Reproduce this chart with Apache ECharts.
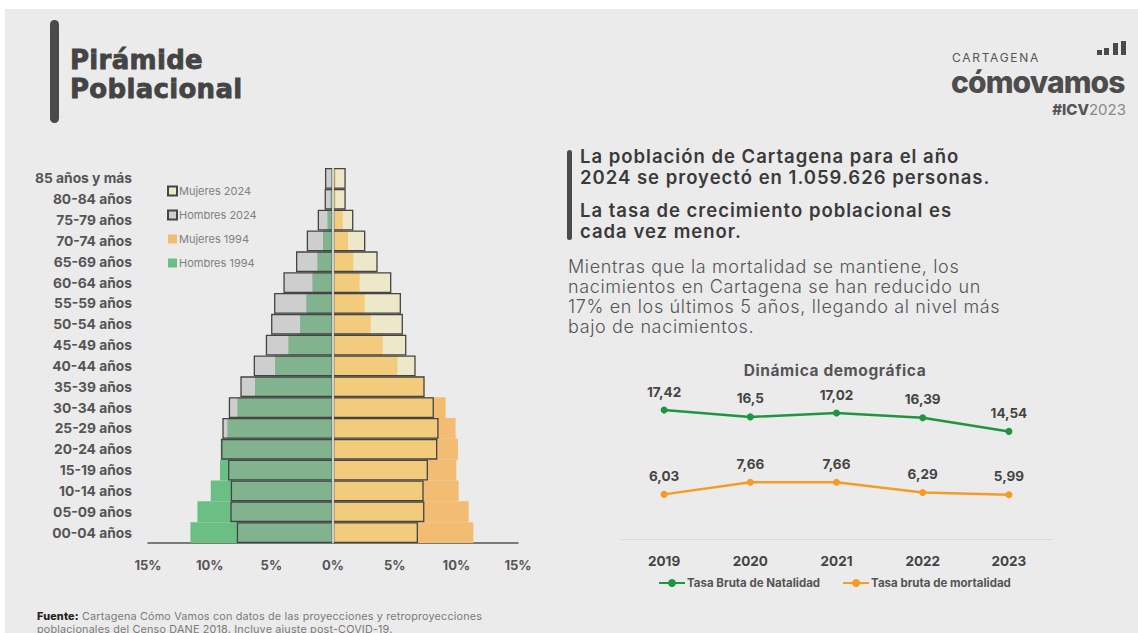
<!DOCTYPE html>
<html>
<head>
<meta charset="utf-8">
<script src="https://cdn.jsdelivr.net/npm/echarts@6/dist/echarts.min.js"></script>
<style>
  html, body { margin:0; padding:0; background:#ffffff; }
  body { width:1138px; height:633px; position:relative; overflow:hidden; font-family: Inter, "Noto Sans", sans-serif; }
  #panel { position:absolute; left:5px; top:9px; right:0; bottom:0; background:#ebebeb; }
  #chart { position:absolute; left:0; top:0; width:1138px; height:633px; }
  .abs { position:absolute; white-space:nowrap; }
  #tbar { left:50px; top:20px; width:9px; height:103px; background:#4a4a4a; border-radius:5px; }
  #title { left:70px; top:46px; font-family:"DejaVu Sans", sans-serif; font-weight:bold; font-size:26px; line-height:29px; letter-spacing:0.3px; color:#444; -webkit-text-stroke:0.8px #444; }
  #cart { left:952px; top:50.5px; font-size:12px; line-height:14px; letter-spacing:1.7px; color:#555; }
  #como { left:951px; top:67px; font-size:30px; line-height:30px; font-weight:800; color:#4d4d4d; letter-spacing:-0.9px; }
  #icv { right:12px; top:101px; font-size:15px; line-height:18px; color:#555; }
  #icv b { font-weight:800; }
  #icv span { color:#8a8a8a; font-weight:400; }
  .lb { position:absolute; background:#4a4a4a; bottom:578px; width:5px; }
  #hbar { left:567px; top:150px; width:5px; height:90px; background:#4a4a4a; border-radius:3px; }
  .head { left:580px; font-weight:600; font-size:18.5px; line-height:20.5px; letter-spacing:1px; color:#3a3a3a; }
  #para { left:568px; top:257px; font-weight:300; font-size:18px; line-height:20px; letter-spacing:0.65px; color:#555; }
  #ctitle { left:735px; top:361px; width:200px; text-align:center; font-weight:bold; font-size:15.5px; line-height:20px; letter-spacing:0.6px; color:#555; }
  #foot { left:37px; top:611px; font-size:10.8px; line-height:12.5px; letter-spacing:0.18px; color:#7a7a7a; }
  #foot b { color:#222; font-weight:800; }
</style>
</head>
<body>
<div id="panel"></div>
<div id="tbar" class="abs"></div>
<div id="title" class="abs">Pirámide<br>Poblacional</div>
<div id="cart" class="abs">CARTAGENA</div>
<div class="lb" style="left:1097px;height:5px;"></div>
<div class="lb" style="left:1104px;height:7px;"></div>
<div class="lb" style="left:1113px;height:12px;"></div>
<div class="lb" style="left:1121px;height:14px;"></div>
<div id="como" class="abs">cómovamos</div>
<div id="icv" class="abs"><b>#ICV</b><span>2023</span></div>
<div id="hbar" class="abs"></div>
<div class="abs head" style="top:146px;">La población de Cartagena para el año<br>2024 se proyectó en 1.059.626 personas.</div>
<div class="abs head" style="top:200px;">La tasa de crecimiento poblacional es<br>cada vez menor.</div>
<div id="para" class="abs">Mientras que la mortalidad se mantiene, los<br>nacimientos en Cartagena se han reducido un<br>17% en los últimos 5 años, llegando al nivel más<br>bajo de nacimientos.</div>
<div id="ctitle" class="abs">Dinámica demográfica</div>
<div id="foot" class="abs"><b>Fuente:</b> Cartagena Cómo Vamos con datos de las proyecciones y retroproyecciones<br>poblacionales del Censo DANE 2018. Incluye ajuste post-COVID-19.</div>
<div id="chart"></div>
<script>
// ---- Pirámide poblacional (from youngest to oldest) ----
var ageGroups = ['00-04 años','05-09 años','10-14 años','15-19 años','20-24 años','25-29 años','30-34 años','35-39 años','40-44 años','45-49 años','50-54 años','55-59 años','60-64 años','65-69 años','70-74 años','75-79 años','80-84 años','85 años y más'];
var hombres1994 = [11.56, 10.99, 9.91, 9.16, 9.10, 8.56, 7.75, 6.32, 4.70, 3.62, 2.67, 2.16, 1.67, 1.27, 0.81, 0.45, 0.2, 0.15];
var mujeres1994 = [11.38, 11.00, 10.19, 10.00, 10.13, 9.94, 9.13, 7.40, 5.22, 4.03, 3.06, 2.57, 2.16, 1.65, 1.22, 0.79, 0.2, 0.22];
var hombres2024 = [7.80, 8.32, 8.29, 8.51, 9.07, 8.97, 8.45, 7.51, 6.43, 5.45, 5.02, 4.78, 4.02, 3.00, 2.13, 1.24, 0.68, 0.65];
var mujeres2024 = [6.89, 7.41, 7.35, 7.70, 8.46, 8.56, 8.18, 7.43, 6.70, 5.95, 5.67, 5.51, 4.73, 3.62, 2.62, 1.65, 1.03, 1.03];
var pyramidTicks = [-15, -10, -5, 0, 5, 10, 15];

// ---- Dinámica demográfica ----
var years = ['2019', '2020', '2021', '2022', '2023'];
var natalidad = [17.42, 16.5, 17.02, 16.39, 14.54];
var mortalidad = [6.03, 7.66, 7.66, 6.29, 5.99];

var FONT = 'Inter, "Noto Sans", sans-serif';
var chart = echarts.init(document.getElementById('chart'), null, {renderer: 'svg'});

function neg(a) { return a.map(function (v) { return -v; }); }
function comma(p) { return String(p.value).replace('.', ','); }

var pyrBase = { type: 'bar', xAxisIndex: 0, yAxisIndex: 0, barWidth: '100%', barGap: '-100%', barCategoryGap: '0%' };

chart.setOption({
  animation: false,
  textStyle: { fontFamily: FONT },
  grid: [
    { left: 148, top: 168, width: 370, height: 375 },
    { left: 621, top: 391, width: 431, height: 148 }
  ],
  xAxis: [
    { gridIndex: 0, type: 'value', min: pyramidTicks[0], max: pyramidTicks[pyramidTicks.length - 1], interval: 5,
      axisLine: { show: true, onZero: false, lineStyle: { color: '#555', width: 1.5 } },
      axisTick: { show: false }, splitLine: { show: false },
      axisLabel: { margin: 15, color: '#555', fontWeight: 'bold', fontSize: 13, fontFamily: FONT,
        formatter: function (v) { return Math.abs(v) + '%'; } } },
    { gridIndex: 1, type: 'category', data: years, boundaryGap: true,
      axisLine: { show: true, lineStyle: { color: '#d9d9d9', width: 1 } },
      axisTick: { show: false },
      axisLabel: { margin: 15, color: '#444', fontWeight: 'bold', fontSize: 13.5, fontFamily: FONT } }
  ],
  yAxis: [
    { gridIndex: 0, type: 'category', data: ageGroups,
      axisLine: { show: false }, axisTick: { show: false },
      axisLabel: { margin: 16, color: '#555', fontWeight: 'bold', fontSize: 13.8, fontFamily: FONT } },
    { gridIndex: 1, type: 'value', min: 0, max: 20, show: false, splitLine: { show: false } }
  ],
  legend: [
    { orient: 'vertical', left: 162, top: 180.5, itemWidth: 9, itemHeight: 9, itemGap: 13, icon: 'rect',
      data: ['Mujeres 2024', 'Hombres 2024', 'Mujeres 1994', 'Hombres 1994'],
      textStyle: { fontSize: 11, color: '#808080', fontFamily: FONT, padding: [0, 0, 0, -3] } },
    { orient: 'horizontal', left: 653, top: 572, itemWidth: 26, itemHeight: 10, itemGap: 22,
      data: ['Tasa Bruta de Natalidad', 'Tasa bruta de mortalidad'],
      textStyle: { fontSize: 11.5, fontWeight: 'bold', color: '#555', fontFamily: FONT, padding: [0, 0, 0, -3] } }
  ],
  series: [
    Object.assign({}, pyrBase, { name: 'Hombres 1994', data: neg(hombres1994), itemStyle: { color: '#6cbf84' } }),
    Object.assign({}, pyrBase, { name: 'Mujeres 1994', data: mujeres1994, itemStyle: { color: '#f2bd72' } }),
    Object.assign({}, pyrBase, { name: 'Hombres 2024', data: neg(hombres2024),
      itemStyle: { color: 'rgba(160,160,160,0.38)', borderColor: '#444', borderWidth: 1.3 } }),
    Object.assign({}, pyrBase, { name: 'Mujeres 2024', data: mujeres2024,
      itemStyle: { color: 'rgba(240,228,140,0.36)', borderColor: '#444', borderWidth: 1.3 },
      markLine: { silent: true, symbol: 'none', label: { show: false },
        lineStyle: { color: '#ffffff', width: 1.5, type: 'solid' }, data: [{ xAxis: 0 }] } }),
    { name: 'Tasa Bruta de Natalidad', type: 'line', xAxisIndex: 1, yAxisIndex: 1, data: natalidad,
      color: '#1e9640', lineStyle: { width: 2.5 }, symbol: 'circle', symbolSize: 7,
      label: { show: true, position: 'top', distance: 8, formatter: comma, color: '#444', fontWeight: 'bold', fontSize: 13.5, fontFamily: FONT } },
    { name: 'Tasa bruta de mortalidad', type: 'line', xAxisIndex: 1, yAxisIndex: 1, data: mortalidad,
      color: '#f59c26', lineStyle: { width: 2.5 }, symbol: 'circle', symbolSize: 7,
      label: { show: true, position: 'top', distance: 8, formatter: comma, color: '#444', fontWeight: 'bold', fontSize: 13.5, fontFamily: FONT } }
  ]
});
</script>
</body>
</html>
